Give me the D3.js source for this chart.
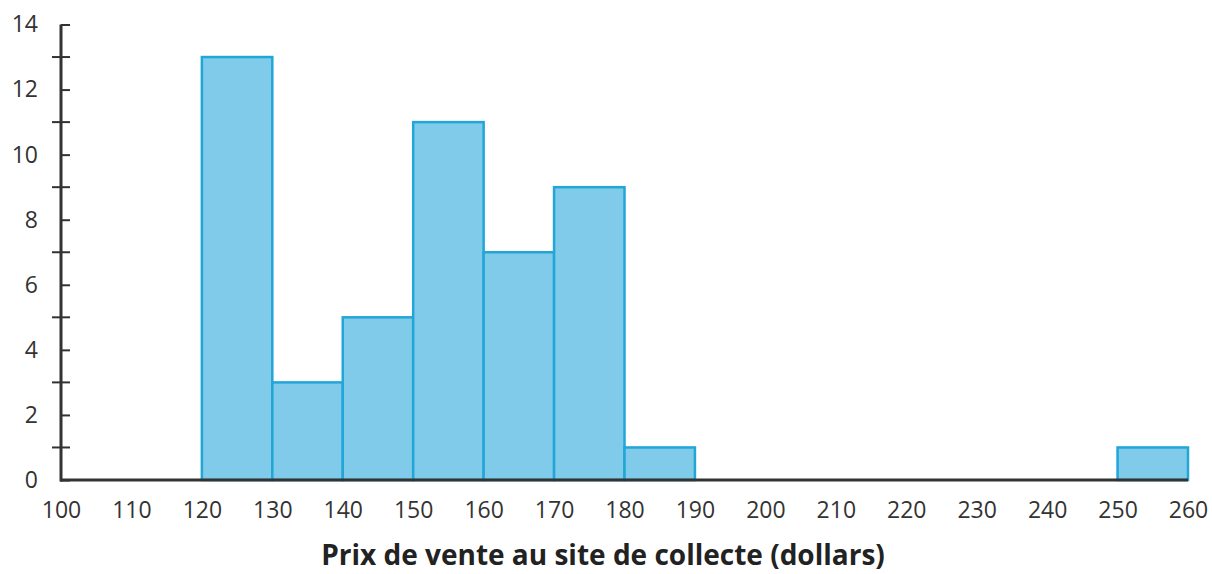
<!DOCTYPE html>
<html><head><meta charset="utf-8">
<script src="https://cdn.jsdelivr.net/npm/d3@7"></script>
<style>body{margin:0;background:#fff;}svg{display:block;}</style>
</head><body>
<script>
const binStarts = [120,130,140,150,160,170,180,250];
const binWidth = 10;
const counts = [13,3,5,11,7,9,1,1];
const xTicks = [100,110,120,130,140,150,160,170,180,190,200,210,220,230,240,250,260];
const yTicks = [0,2,4,6,8,10,12,14];
const yMinorTicks = [1,3,5,7,9,11,13];
const xLabel = "Prix de vente au site de collecte (dollars)";

const W = 1212, H = 574;
const svg = d3.select("body").append("svg").attr("width", W).attr("height", H);
const x = d3.scaleLinear().domain([100,260]).range([61,1188]);
const y = d3.scaleLinear().domain([0,14]).range([480,24.5]);

svg.selectAll("rect.bar").data(binStarts).join("rect")
  .attr("class","bar")
  .attr("x", d => x(d))
  .attr("width", d => x(d+binWidth)-x(d))
  .attr("y", (d,i) => y(counts[i]))
  .attr("height", (d,i) => y(0)-y(counts[i]))
  .attr("fill","#80cbe9")
  .attr("stroke","#22a6d8")
  .attr("stroke-width",2.5);

const axisColor = "#333";
// y axis
const yAxis = d3.axisLeft(y).tickValues(yTicks).tickSize(9).tickPadding(14).tickFormat(d3.format("d"));
const gy = svg.append("g").attr("transform","translate(61,0)").call(yAxis);
gy.select(".domain").remove();
gy.selectAll(".tick line").attr("x2",9).attr("stroke",axisColor).attr("stroke-width",2);
gy.selectAll(".tick text").attr("font-family","'Open Sans'").attr("font-size",23).attr("fill","#333");
svg.append("g").selectAll("line").data(yMinorTicks).join("line")
  .attr("x1",52).attr("x2",70).attr("y1",d=>y(d)).attr("y2",d=>y(d))
  .attr("stroke",axisColor).attr("stroke-width",2);
svg.append("line").attr("x1",61).attr("x2",61).attr("y1",y(14)).attr("y2",y(0)+1.5)
  .attr("stroke",axisColor).attr("stroke-width",3);

// x axis
const xAxis = d3.axisBottom(x).tickValues(xTicks).tickSize(0).tickPadding(22).tickFormat(d3.format("d"));
const gx = svg.append("g").attr("transform",`translate(0,${y(0)})`).call(xAxis);
gx.select(".domain").remove();
gx.selectAll(".tick text").attr("font-family","'Open Sans'").attr("font-size",23).attr("fill","#333");
svg.append("line").attr("x1",60).attr("x2",1188).attr("y1",y(0)).attr("y2",y(0))
  .attr("stroke",axisColor).attr("stroke-width",3);

svg.append("text").attr("x",603).attr("y",565).attr("text-anchor","middle")
  .attr("font-family","'Open Sans'").attr("font-weight","bold").attr("font-size",28)
  .attr("fill","#222").text(xLabel);
</script>
</body></html>
